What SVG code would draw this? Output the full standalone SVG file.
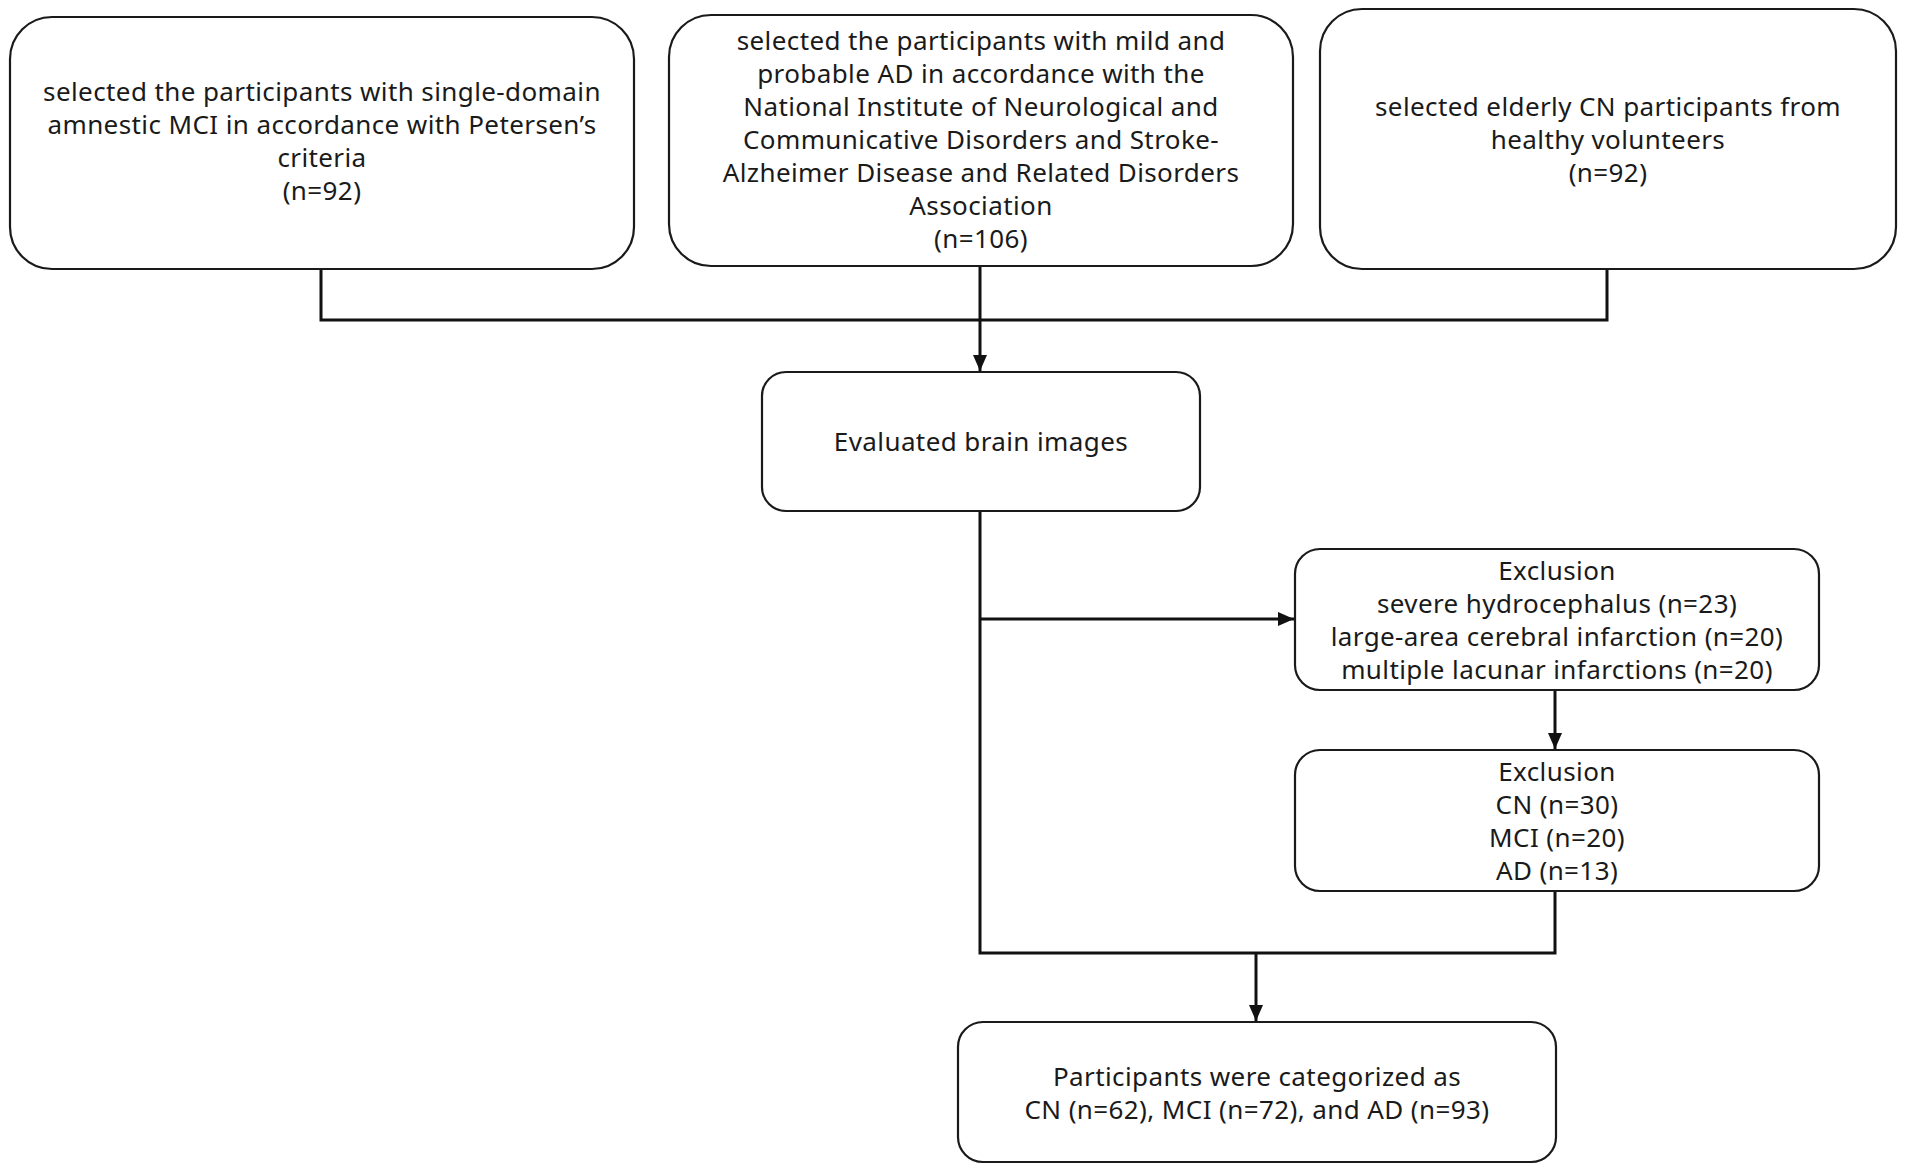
<svg xmlns="http://www.w3.org/2000/svg" width="1908" height="1175" viewBox="0 0 1908 1175">
<style>
.box{fill:#fff;stroke:#1a1a1a;stroke-width:2.2}
.t{font-family:"Noto Sans","Open Sans","DejaVu Sans",sans-serif;font-size:26px;letter-spacing:0.4px;fill:#1a1a1a;text-anchor:middle}
.c{fill:none;stroke:#111;stroke-width:3}
</style>
<defs>
<marker id="ah" markerUnits="userSpaceOnUse" markerWidth="16" markerHeight="16" viewBox="0 0 16 14" refX="16" refY="7" orient="auto">
<path d="M0 0 L16 7 L0 14 Z" fill="#111"/>
</marker>
</defs>
<rect width="1908" height="1175" fill="#fff"/>
<g id="connectors">
<path class="c" d="M321 269 V320 H1607 V269"/>
<path class="c" d="M980 265 V371" marker-end="url(#ah)"/>
<path class="c" d="M980 511 V953 H1555 V891"/>
<path class="c" d="M980 619 H1294" marker-end="url(#ah)"/>
<path class="c" d="M1555 690 V749" marker-end="url(#ah)"/>
<path class="c" d="M1256 953 V1021" marker-end="url(#ah)"/>
</g>
<g id="node-mci">
<rect class="box" x="10" y="17" width="624" height="252" rx="42"/>
<text class="t" x="322" y="101">selected the participants with single-domain</text>
<text class="t" x="322" y="134">amnestic MCI in accordance with Petersen’s</text>
<text class="t" x="322" y="167">criteria</text>
<text class="t" x="322" y="200">(n=92)</text>
</g>
<g id="node-ad">
<rect class="box" x="669" y="15" width="624" height="251" rx="42"/>
<text class="t" x="981" y="50">selected the participants with mild and</text>
<text class="t" x="981" y="83">probable AD in accordance with the</text>
<text class="t" x="981" y="116">National Institute of Neurological and</text>
<text class="t" x="981" y="149">Communicative Disorders and Stroke-</text>
<text class="t" x="981" y="182">Alzheimer Disease and Related Disorders</text>
<text class="t" x="981" y="215">Association</text>
<text class="t" x="981" y="248">(n=106)</text>
</g>
<g id="node-cn">
<rect class="box" x="1320" y="9" width="576" height="260" rx="42"/>
<text class="t" x="1608" y="116">selected elderly CN participants from</text>
<text class="t" x="1608" y="149">healthy volunteers</text>
<text class="t" x="1608" y="182">(n=92)</text>
</g>
<g id="node-eval">
<rect class="box" x="762" y="372" width="438" height="139" rx="24"/>
<text class="t" x="981" y="451">Evaluated brain images</text>
</g>
<g id="node-excl1">
<rect class="box" x="1295" y="549" width="524" height="141" rx="25"/>
<text class="t" x="1557" y="580">Exclusion</text>
<text class="t" x="1557" y="613">severe hydrocephalus (n=23)</text>
<text class="t" x="1557" y="646">large-area cerebral infarction (n=20)</text>
<text class="t" x="1557" y="679">multiple lacunar infarctions (n=20)</text>
</g>
<g id="node-excl2">
<rect class="box" x="1295" y="750" width="524" height="141" rx="25"/>
<text class="t" x="1557" y="781">Exclusion</text>
<text class="t" x="1557" y="814">CN (n=30)</text>
<text class="t" x="1557" y="847">MCI (n=20)</text>
<text class="t" x="1557" y="880">AD (n=13)</text>
</g>
<g id="node-final">
<rect class="box" x="958" y="1022" width="598" height="140" rx="25"/>
<text class="t" x="1257" y="1086">Participants were categorized as</text>
<text class="t" x="1257" y="1119">CN (n=62), MCI (n=72), and AD (n=93)</text>
</g>
</svg>
